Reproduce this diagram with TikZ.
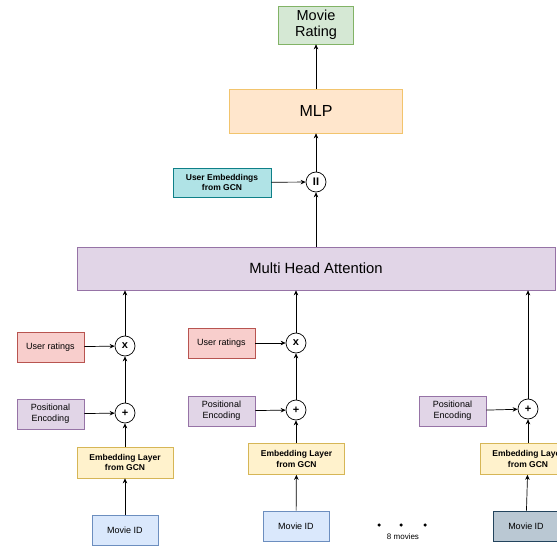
\documentclass[tikz,border=0pt]{standalone}
\usepackage{fontspec}
\setmainfont{Liberation Sans}
\usetikzlibrary{arrows.meta}

\definecolor{ratefill}{HTML}{D5E8D4}\definecolor{rateline}{HTML}{82B366}
\definecolor{mlpfill}{HTML}{FFE6CC}\definecolor{mlpline}{HTML}{F2C46D}
\definecolor{userfill}{HTML}{B0E3E6}\definecolor{userline}{HTML}{0E8088}
\definecolor{attfill}{HTML}{E1D5E7}\definecolor{attline}{HTML}{9673A6}
\definecolor{scorefill}{HTML}{F8CECC}\definecolor{scoreline}{HTML}{B85450}
\definecolor{embfill}{HTML}{FFF2CC}\definecolor{embline}{HTML}{D6B656}
\definecolor{idfill}{HTML}{DAE8FC}\definecolor{idline}{HTML}{6C8EBF}
\definecolor{lastfill}{HTML}{BAC8D3}\definecolor{lastline}{HTML}{23445D}

\tikzset{
    box/.style={rectangle, draw, line width=0.7pt, inner sep=1pt, align=center},
    op/.style={circle, draw, line width=0.7pt, minimum size=20pt, inner sep=0pt, font=\bfseries\fontsize{11}{12}\selectfont},
    flow/.style={-{Stealth[length=5pt,width=4.5pt]}, line width=0.7pt},
    small/.style={font=\fontsize{9}{11}\selectfont},
    smallbf/.style={font=\bfseries\fontsize{8.5}{10.5}\selectfont}
}

\begin{document}
\begin{tikzpicture}[x=1pt, y=-1pt]
        \useasboundingbox (0,0) rectangle (557,548);
        \clip (0,0) rectangle (557,548);

        % Output part
        \node[box, fill=ratefill, draw=rateline, minimum width=75pt, minimum height=38pt, font=\fontsize{14.5}{16.5}\selectfont] (rating) at (316,25) {Movie\\Rating};
        \node[box, fill=mlpfill, draw=mlpline, minimum width=173pt, minimum height=44pt, font=\fontsize{16}{18}\selectfont] (mlp) at (316,111) {MLP};
        \node[op] (cat) at (316,182) {II};
        \node[box, smallbf, fill=userfill, draw=userline, minimum width=98pt, minimum height=29pt] (useremb) at (222,182.5) {User Embeddings\\from GCN};

        % Attention
        \node[box, fill=attfill, draw=attline, minimum width=478pt, minimum height=43pt, font=\fontsize{14.8}{16}\selectfont] (mha) at (316,268.5) {Multi Head Attention};

        \draw[flow] (mlp) -- (rating);
        \draw[flow] (cat) -- (mlp);
        \draw[flow] (useremb) -- (cat);
        \draw[flow] (mha.north -| cat) -- (cat);

        % Movie 1
        \node[op] (mul1) at (125,346) {x};
        \node[op] (add1) at (125,413) {+};
        \node[box, small, fill=scorefill, draw=scoreline, minimum width=67pt, minimum height=30pt] (score1) at (50.5,347) {User ratings};
        \node[box, small, fill=attfill, draw=attline, minimum width=67pt, minimum height=30pt] (pos1) at (50.5,414) {Positional\\Encoding};
        \node[box, smallbf, fill=embfill, draw=embline, minimum width=96pt, minimum height=31pt] (emb1) at (125,462.5) {Embedding Layer\\from GCN};
        \node[box, small, fill=idfill, draw=idline, minimum width=66pt, minimum height=30pt] (id1) at (125,530) {Movie ID};

        % Movie 2
        \node[op] (mul2) at (296,343) {x};
        \node[op] (add2) at (296,410) {+};
        \node[box, small, fill=scorefill, draw=scoreline, minimum width=67pt, minimum height=30pt] (score2) at (221.5,343) {User ratings};
        \node[box, small, fill=attfill, draw=attline, minimum width=67pt, minimum height=30pt] (pos2) at (221.5,411) {Positional\\Encoding};
        \node[box, smallbf, fill=embfill, draw=embline, minimum width=96pt, minimum height=31pt] (emb2) at (296.5,459) {Embedding Layer\\from GCN};
        \node[box, small, fill=idfill, draw=idline, minimum width=66pt, minimum height=30pt] (id2) at (296,526) {Movie ID};

        % Movie 8
        \node[op] (add3) at (528,409) {+};
        \node[box, small, fill=attfill, draw=attline, minimum width=67pt, minimum height=30pt] (pos3) at (452.5,411) {Positional\\Encoding};
        \node[box, smallbf, fill=embfill, draw=embline, minimum width=96pt, minimum height=31pt] (emb3) at (528,459) {Embedding Layer\\from GCN};
        \node[box, small, fill=lastfill, draw=lastline, minimum width=66pt, minimum height=30pt] (id3) at (526,526) {Movie ID};

        % Dots between movies
        \foreach \i/\x in {1/379,2/401,3/425} {
            \node[circle, fill, inner sep=0pt, minimum size=3.5pt] (dot\i) at (\x,525) {};
        }
        \node[font=\fontsize{8}{10}\selectfont] (more) at (403,537) {8 movies};

        % Connections for the movie columns
        \foreach \i in {1,2,3} {
            \draw[flow] (id\i) -- (emb\i);
            \draw[flow] (emb\i.north -| add\i) -- (add\i);
            \draw[flow] (pos\i) -- (add\i);
        }
        \foreach \i in {1,2} {
            \draw[flow] (add\i) -- (mul\i);
            \draw[flow] (score\i) -- (mul\i);
            \draw[flow] (mul\i) -- (mul\i |- mha.south);
        }
        \draw[flow] (add3) -- (add3 |- mha.south);
\end{tikzpicture}
\end{document}
